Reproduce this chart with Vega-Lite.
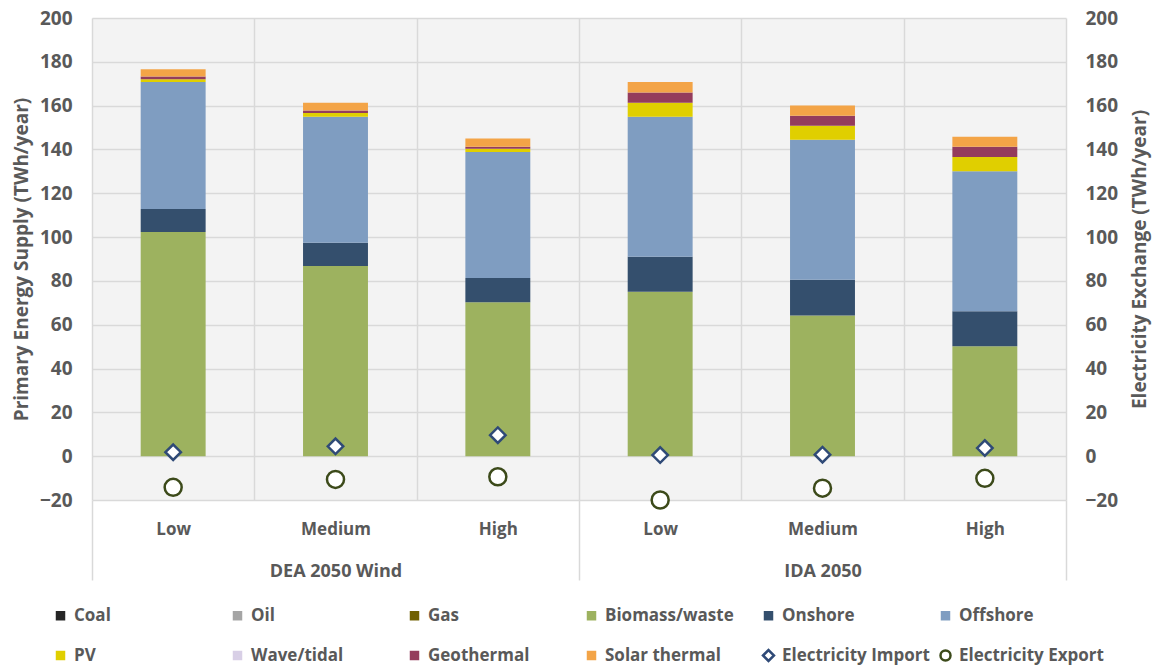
{
  "$schema": "https://vega.github.io/schema/vega-lite/v6.json",
  "width": 974,
  "height": 482,
  "autosize": {"type": "none"},
  "padding": {"left": 92, "top": 18, "right": 93, "bottom": 167},
  "background": "white",
  "config": {
    "font": "Open Sans",
    "view": {"stroke": null, "fill": "#f3f3f3"},
    "axis": {
      "labelFont": "Open Sans",
      "labelFontSize": 17,
      "labelFontWeight": "bold",
      "labelColor": "#595959",
      "titleFont": "Open Sans",
      "titleFontSize": 19,
      "titleFontWeight": "bold",
      "titleColor": "#595959",
      "domain": false,
      "ticks": false,
      "gridColor": "#d9d9d9",
      "gridWidth": 1.5
    }
  },
  "datasets": {
    "supply": [
      {"group": "DEA 2050 Wind", "level": "Low", "series": "Biomass/waste", "value": 102.3},
      {"group": "DEA 2050 Wind", "level": "Low", "series": "Onshore", "value": 10.5},
      {"group": "DEA 2050 Wind", "level": "Low", "series": "Offshore", "value": 58.0},
      {"group": "DEA 2050 Wind", "level": "Low", "series": "PV", "value": 1.2},
      {"group": "DEA 2050 Wind", "level": "Low", "series": "Geothermal", "value": 1.3},
      {"group": "DEA 2050 Wind", "level": "Low", "series": "Solar thermal", "value": 3.3},
      {"group": "DEA 2050 Wind", "level": "Medium", "series": "Biomass/waste", "value": 86.8},
      {"group": "DEA 2050 Wind", "level": "Medium", "series": "Onshore", "value": 10.6},
      {"group": "DEA 2050 Wind", "level": "Medium", "series": "Offshore", "value": 57.5},
      {"group": "DEA 2050 Wind", "level": "Medium", "series": "PV", "value": 1.7},
      {"group": "DEA 2050 Wind", "level": "Medium", "series": "Geothermal", "value": 1.2},
      {"group": "DEA 2050 Wind", "level": "Medium", "series": "Solar thermal", "value": 3.5},
      {"group": "DEA 2050 Wind", "level": "High", "series": "Biomass/waste", "value": 70.3},
      {"group": "DEA 2050 Wind", "level": "High", "series": "Onshore", "value": 11.0},
      {"group": "DEA 2050 Wind", "level": "High", "series": "Offshore", "value": 57.5},
      {"group": "DEA 2050 Wind", "level": "High", "series": "PV", "value": 1.5},
      {"group": "DEA 2050 Wind", "level": "High", "series": "Geothermal", "value": 0.9},
      {"group": "DEA 2050 Wind", "level": "High", "series": "Solar thermal", "value": 3.8},
      {"group": "IDA 2050", "level": "Low", "series": "Biomass/waste", "value": 75.0},
      {"group": "IDA 2050", "level": "Low", "series": "Onshore", "value": 16.0},
      {"group": "IDA 2050", "level": "Low", "series": "Offshore", "value": 63.9},
      {"group": "IDA 2050", "level": "Low", "series": "PV", "value": 6.4},
      {"group": "IDA 2050", "level": "Low", "series": "Geothermal", "value": 4.7},
      {"group": "IDA 2050", "level": "Low", "series": "Solar thermal", "value": 4.8},
      {"group": "IDA 2050", "level": "Medium", "series": "Biomass/waste", "value": 64.2},
      {"group": "IDA 2050", "level": "Medium", "series": "Onshore", "value": 16.3},
      {"group": "IDA 2050", "level": "Medium", "series": "Offshore", "value": 63.9},
      {"group": "IDA 2050", "level": "Medium", "series": "PV", "value": 6.4},
      {"group": "IDA 2050", "level": "Medium", "series": "Geothermal", "value": 4.6},
      {"group": "IDA 2050", "level": "Medium", "series": "Solar thermal", "value": 4.7},
      {"group": "IDA 2050", "level": "High", "series": "Biomass/waste", "value": 50.2},
      {"group": "IDA 2050", "level": "High", "series": "Onshore", "value": 16.0},
      {"group": "IDA 2050", "level": "High", "series": "Offshore", "value": 63.9},
      {"group": "IDA 2050", "level": "High", "series": "PV", "value": 6.4},
      {"group": "IDA 2050", "level": "High", "series": "Geothermal", "value": 4.7},
      {"group": "IDA 2050", "level": "High", "series": "Solar thermal", "value": 4.6}
    ],
    "exchange": [
      {"group": "DEA 2050 Wind", "level": "Low", "series": "Electricity Import", "value": 1.8},
      {"group": "DEA 2050 Wind", "level": "Low", "series": "Electricity Export", "value": -14.2},
      {"group": "DEA 2050 Wind", "level": "Medium", "series": "Electricity Import", "value": 4.5},
      {"group": "DEA 2050 Wind", "level": "Medium", "series": "Electricity Export", "value": -10.6},
      {"group": "DEA 2050 Wind", "level": "High", "series": "Electricity Import", "value": 9.6},
      {"group": "DEA 2050 Wind", "level": "High", "series": "Electricity Export", "value": -9.4},
      {"group": "IDA 2050", "level": "Low", "series": "Electricity Import", "value": 0.5},
      {"group": "IDA 2050", "level": "Low", "series": "Electricity Export", "value": -20.0},
      {"group": "IDA 2050", "level": "Medium", "series": "Electricity Import", "value": 0.7},
      {"group": "IDA 2050", "level": "Medium", "series": "Electricity Export", "value": -14.6},
      {"group": "IDA 2050", "level": "High", "series": "Electricity Import", "value": 3.7},
      {"group": "IDA 2050", "level": "High", "series": "Electricity Export", "value": -10.1}
    ]
  },
  "layer": [
    {
      "data": {"name": "supply"},
      "transform": [
        {"calculate": "datum.group + '|' + datum.level", "as": "k"},
        {"calculate": "indexof(['Coal','Oil','Gas','Biomass/waste','Onshore','Offshore','PV','Wave/tidal','Geothermal','Solar thermal'], datum.series)", "as": "o"}
      ],
      "mark": {"type": "bar", "width": {"band": 0.4}},
      "encoding": {
        "x": {
          "field": "k",
          "type": "nominal",
          "scale": {"type": "band", "domain": ["DEA 2050 Wind|Low", "DEA 2050 Wind|Medium", "DEA 2050 Wind|High", "IDA 2050|Low", "IDA 2050|Medium", "IDA 2050|High"], "paddingInner": 0, "paddingOuter": 0},
          "axis": {"title": null, "orient": "bottom", "labelExpr": "split(datum.value, '|')[1]", "labelAngle": 0, "grid": true, "tickBand": "extent", "ticks": false, "labelPadding": 21}
        },
        "y": {
          "field": "value",
          "type": "quantitative",
          "stack": "zero",
          "scale": {"domain": [-20, 200], "nice": false, "zero": false},
          "axis": {"orient": "left", "values": [-20, 0, 20, 40, 60, 80, 100, 120, 140, 160, 180, 200], "grid": true, "labelFontSize": 19, "labelPadding": 20, "titlePadding": 8, "title": "Primary Energy Supply (TWh/year)"}
        },
        "color": {
          "field": "series",
          "type": "nominal",
          "scale": {
            "domain": ["Coal", "Oil", "Gas", "Biomass/waste", "Onshore", "Offshore", "PV", "Wave/tidal", "Geothermal", "Solar thermal", "Electricity Import", "Electricity Export"],
            "range": ["#262626", "#a5a5a5", "#706000", "#9db25f", "#344f6d", "#7f9dc1", "#e0cf00", "#d8cfe6", "#943c5c", "#f3a447", "#2f4a77", "#3c4a1a"]
          },
          "legend": {
            "title": null,
            "orient": "none",
            "legendX": -40,
            "legendY": 588,
            "columns": 6,
            "direction": "horizontal",
            "gridAlign": "all",
            "columnPadding": 5,
            "rowPadding": 20,
            "padding": 0,
            "symbolSize": 90,
            "symbolType": "square",
            "labelFont": "Open Sans",
            "labelFontSize": 17,
            "labelFontWeight": "bold",
            "labelColor": "#595959",
            "labelOffset": 5,
            "labelLimit": 300,
            "encode": {
              "symbols": {
                "update": {
                  "shape": {"signal": "datum.value === 'Electricity Import' ? 'diamond' : (datum.value === 'Electricity Export' ? 'circle' : 'square')"},
                  "size": {"signal": "datum.value === 'Electricity Import' ? 120 : (datum.value === 'Electricity Export' ? 100 : 90)"},
                  "fillOpacity": {"signal": "(datum.value === 'Electricity Import' || datum.value === 'Electricity Export') ? 0 : 1"},
                  "stroke": {"signal": "scale('color', datum.value)"},
                  "strokeWidth": {"signal": "(datum.value === 'Electricity Import' || datum.value === 'Electricity Export') ? 2.5 : 0"},
                  "opacity": {"value": 1}
                }
              }
            }
          }
        },
        "order": {"field": "o", "type": "quantitative", "sort": "ascending"}
      }
    },
    {
      "data": {"name": "exchange"},
      "transform": [
        {"calculate": "datum.group + '|' + datum.level", "as": "k"}
      ],
      "mark": {"type": "point", "filled": true, "fill": "white", "strokeWidth": 2.5, "opacity": 1},
      "encoding": {
        "x": {
          "field": "k",
          "type": "nominal",
          "scale": {"type": "band", "domain": ["DEA 2050 Wind|Low", "DEA 2050 Wind|Medium", "DEA 2050 Wind|High", "IDA 2050|Low", "IDA 2050|Medium", "IDA 2050|High"], "paddingInner": 0, "paddingOuter": 0},
          "axis": null
        },
        "y": {
          "field": "value",
          "type": "quantitative",
          "scale": {"domain": [-20, 200], "nice": false, "zero": false},
          "axis": {"orient": "right", "values": [-20, 0, 20, 40, 60, 80, 100, 120, 140, 160, 180, 200], "grid": false, "labelFontSize": 19, "labelPadding": 19, "titlePadding": 13, "titleAngle": 270, "titleBaseline": "top", "title": "Electricity Exchange (TWh/year)"}
        },
        "stroke": {"field": "series", "type": "nominal", "scale": {"domain": ["Electricity Import", "Electricity Export"], "range": ["#2f4a77", "#3c4a1a"]}, "legend": null},
        "shape": {"field": "series", "type": "nominal", "scale": {"domain": ["Electricity Import", "Electricity Export"], "range": ["diamond", "circle"]}, "legend": null},
        "size": {"field": "series", "type": "nominal", "scale": {"domain": ["Electricity Import", "Electricity Export"], "range": [240, 290]}, "legend": null}
      }
    },
    {
      "data": {"name": "supply"},
      "mark": {"type": "point", "opacity": 0},
      "encoding": {
        "x": {
          "field": "group",
          "type": "nominal",
          "scale": {"type": "band", "domain": ["DEA 2050 Wind", "IDA 2050"], "paddingInner": 0, "paddingOuter": 0},
          "axis": {"title": null, "orient": "bottom", "labelAngle": 0, "labelFontSize": 18, "grid": false, "domain": false, "ticks": true, "tickBand": "extent", "tickSize": 80, "tickColor": "#d9d9d9", "tickWidth": 1.5, "labelPadding": -18}
        }
      }
    }
  ],
  "resolve": {"scale": {"x": "independent", "y": "independent"}}
}
